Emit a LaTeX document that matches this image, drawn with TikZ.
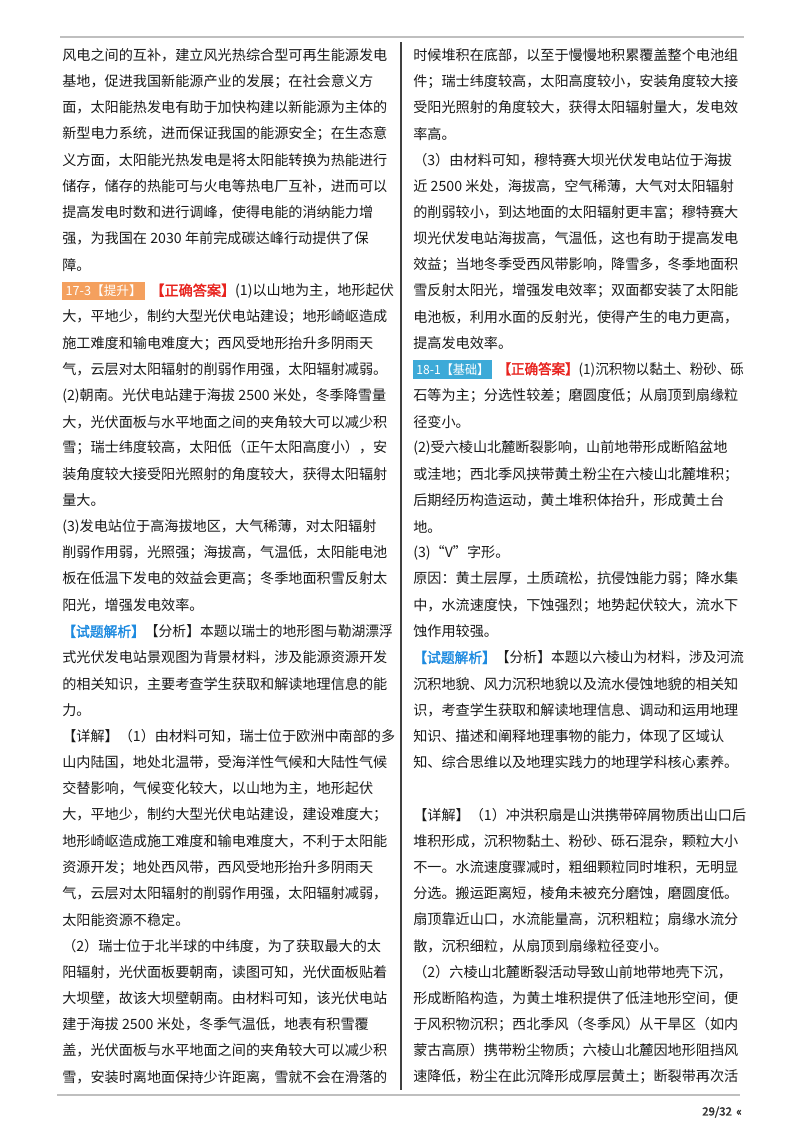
\documentclass[tikz,border=0pt]{standalone}
\usepackage{fontspec}
\usepackage{graphicx}
\setmainfont{Noto Sans CJK SC}[AutoFakeBold=2]
\definecolor{badgeA}{HTML}{F4A05E}
\definecolor{badgeB}{HTML}{3DAAD8}
\definecolor{ansred}{HTML}{E8231E}
\definecolor{anablue}{HTML}{1E8BE0}
\definecolor{txt}{HTML}{1A1A1A}
\XeTeXlinebreaklocale "zh"
\XeTeXlinebreakskip=0pt plus 3pt
\newcommand\jl[1]{\hbox to 248pt{#1}}
\newcommand\fit[1]{\resizebox{248pt}{\height}{#1}}
\newcommand\gsp{\kern2.5pt}
\newcommand\badge[2]{{\setlength\fboxsep{2.5pt}\colorbox{#1}{\color{white}\fontsize{9.5pt}{11pt}\selectfont #2}}\hspace{4pt}}
\newcommand\ans{{\color{ansred}\bfseries 【正确答案】}}
\newcommand\ana{{\color{anablue}\bfseries 【试题解析】}}
\tikzset{ln/.style={anchor=west,inner sep=0pt,text=txt,font=\fontsize{10.6pt}{12pt}\selectfont}}
\begin{document}
\begin{tikzpicture}[x=0.75pt,y=-0.75pt]
\useasboundingbox (0,0) rectangle (800,1132);
\fill[white] (0,0) rectangle (800,1132);
\draw[gray!50,line width=1.2pt] (60,37) -- (744,37);
\draw[gray!50,line width=1.2pt] (57,1095) -- (740,1095);
\draw[black!75,line width=1.6pt] (401,42) -- (401,1090);
\node[anchor=east,inner sep=0pt,font=\fontsize{8.5pt}{10pt}\selectfont\bfseries,text=black!80] (pg) at (742,1112) {29/32 \,«};
% left column
\foreach \t [count=\i] in {
 {\jl{风电之间的互补，建立风光热综合型可再生能源发电}},
 {基地，促进我国新能源产业的发展；在社会意义方},
 {\jl{面，太阳能热发电有助于加快构建以新能源为主体的}},
 {\jl{新型电力系统，进而保证我国的能源安全；在生态意}},
 {\jl{义方面，太阳能光热发电是将太阳能转换为热能进行}},
 {\jl{储存，储存的热能可与火电等热电厂互补，进而可以}},
 {提高发电时数和进行调峰，使得电能的消纳能力增},
 {强，为我国在\gsp 2030\gsp 年前完成碳达峰行动提供了保},
 {障。},
 {\badge{badgeA}{17-3【提升】}\ans(1)以山地为主，地形起伏},
 {\jl{大，平地少，制约大型光伏电站建设；地形崎岖造成}},
 {施工难度和输电难度大；西风受地形抬升多阴雨天},
 {\jl{气，云层对太阳辐射的削弱作用强，太阳辐射减弱。}},
 {\jl{(2)朝南。光伏电站建于海拔\gsp 2500\gsp 米处，冬季降雪量}},
 {\jl{大，光伏面板与水平地面之间的夹角较大可以减少积}},
 {\jl{雪；瑞士纬度较高，太阳低（正午太阳高度小），安}},
 {\jl{装角度较大接受阳光照射的角度较大，获得太阳辐射}},
 {量大。},
 {(3)发电站位于高海拔地区，大气稀薄，对太阳辐射},
 {\jl{削弱作用弱，光照强；海拔高，气温低，太阳能电池}},
 {\jl{板在低温下发电的效益会更高；冬季地面积雪反射太}},
 {阳光，增强发电效率。},
 {\fit{\ana【分析】本题以瑞士的地形图与勒湖漂浮}},
 {\jl{式光伏发电站景观图为背景材料，涉及能源资源开发}},
 {\jl{的相关知识，主要考查学生获取和解读地理信息的能}},
 {力。},
 {\jl{【详解】（1）由材料可知，瑞士位于欧洲中南部的多}},
 {\jl{山内陆国，地处北温带，受海洋性气候和大陆性气候}},
 {交替影响，气候变化较大，以山地为主，地形起伏},
 {\jl{大，平地少，制约大型光伏电站建设，建设难度大；}},
 {\jl{地形崎岖造成施工难度和输电难度大，不利于太阳能}},
 {资源开发；地处西风带，西风受地形抬升多阴雨天},
 {\jl{气，云层对太阳辐射的削弱作用强，太阳辐射减弱，}},
 {太阳能资源不稳定。},
 {\jl{（2）瑞士位于北半球的中纬度，为了获取最大的太}},
 {\jl{阳辐射，光伏面板要朝南，读图可知，光伏面板贴着}},
 {\jl{大坝壁，故该大坝壁朝南。由材料可知，该光伏电站}},
 {建于海拔\gsp 2500\gsp 米处，冬季气温低，地表有积雪覆},
 {\jl{盖，光伏面板与水平地面之间的夹角较大可以减少积}},
 {\jl{雪，安装时离地面保持少许距离，雪就不会在滑落的}}
}{\node[ln] (L\i) at (62,{55+(\i-1)*26.2}) {\t};}
% right column
\foreach \t [count=\i] in {
 {\jl{时候堆积在底部，以至于慢慢地积累覆盖整个电池组}},
 {\jl{件；瑞士纬度较高，太阳高度较小，安装角度较大接}},
 {\jl{受阳光照射的角度较大，获得太阳辐射量大，发电效}},
 {率高。},
 {\jl{（3）由材料可知，穆特赛大坝光伏发电站位于海拔}},
 {\jl{近\gsp 2500\gsp 米处，海拔高，空气稀薄，大气对太阳辐射}},
 {\jl{的削弱较小，到达地面的太阳辐射更丰富；穆特赛大}},
 {\jl{坝光伏发电站海拔高，气温低，这也有助于提高发电}},
 {\jl{效益；当地冬季受西风带影响，降雪多，冬季地面积}},
 {\jl{雪反射太阳光，增强发电效率；双面都安装了太阳能}},
 {\jl{电池板，利用水面的反射光，使得产生的电力更高，}},
 {提高发电效率。},
 {\fit{\badge{badgeB}{18-1【基础】}\ans(1)沉积物以黏土、粉砂、砾}},
 {\jl{石等为主；分选性较差；磨圆度低；从扇顶到扇缘粒}},
 {径变小。},
 {\jl{(2)受六棱山北麓断裂影响，山前地带形成断陷盆地}},
 {\jl{或洼地；西北季风挟带黄土粉尘在六棱山北麓堆积；}},
 {\jl{后期经历构造运动，黄土堆积体抬升，形成黄土台}},
 {地。},
 {(3)“V”字形。},
 {\jl{原因：黄土层厚，土质疏松，抗侵蚀能力弱；降水集}},
 {\jl{中，水流速度快，下蚀强烈；地势起伏较大，流水下}},
 {蚀作用较强。},
 {\fit{\ana【分析】本题以六棱山为材料，涉及河流}},
 {\jl{沉积地貌、风力沉积地貌以及流水侵蚀地貌的相关知}},
 {\jl{识，考查学生获取和解读地理信息、调动和运用地理}},
 {\jl{知识、描述和阐释地理事物的能力，体现了区域认}},
 {\jl{知、综合思维以及地理实践力的地理学科核心素养。}},
 {\strut},
 {\jl{【详解】（1）冲洪积扇是山洪携带碎屑物质出山口后}},
 {\jl{堆积形成，沉积物黏土、粉砂、砾石混杂，颗粒大小}},
 {\jl{不一。水流速度骤减时，粗细颗粒同时堆积，无明显}},
 {\jl{分选。搬运距离短，棱角未被充分磨蚀，磨圆度低。}},
 {\jl{扇顶靠近山口，水流能量高，沉积粗粒；扇缘水流分}},
 {散，沉积细粒，从扇顶到扇缘粒径变小。},
 {\jl{（2）六棱山北麓断裂活动导致山前地带地壳下沉，}},
 {\jl{形成断陷构造，为黄土堆积提供了低洼地形空间，便}},
 {\jl{于风积物沉积；西北季风（冬季风）从干旱区（如内}},
 {\jl{蒙古高原）携带粉尘物质；六棱山北麓因地形阻挡风}},
 {\jl{速降低，粉尘在此沉降形成厚层黄土；断裂带再次活}}
}{\node[ln] (R\i) at (413,{55+(\i-1)*26.2}) {\t};}
\end{tikzpicture}
\end{document}
